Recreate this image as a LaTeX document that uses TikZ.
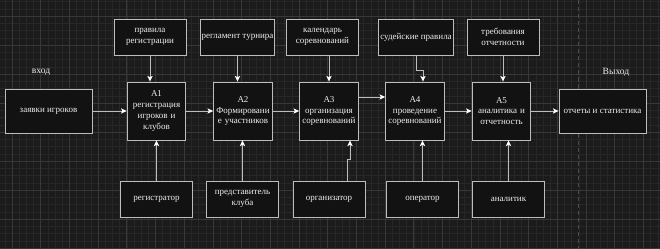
\documentclass[tikz,border=0pt]{standalone}
\usepackage{fontspec}
\setmainfont{Liberation Serif}
\usepackage{xcolor}
\usetikzlibrary{arrows.meta,calc,positioning}

\definecolor{bgcol}{HTML}{1B1B1B}
\definecolor{boxfill}{HTML}{121212}
\definecolor{boxline}{HTML}{BDBDBD}
\definecolor{gridmin}{HTML}{272727}
\definecolor{gridmaj}{HTML}{383838}
\definecolor{dashcol}{HTML}{4A4A4A}
\definecolor{txtcol}{HTML}{EEEEEE}

\begin{document}
\begin{tikzpicture}[x=0.025cm,y=-0.025cm,
  box/.style={draw=boxline,line width=0.6pt,fill=boxfill,align=center,inner sep=1pt,text=txtcol,
    font=\fontsize{6.4}{7.6}\selectfont},
  func/.style={box,minimum width=1.45cm,minimum height=1.45cm,text width=1.4cm},
  ctrl/.style={box,minimum width=1.8cm,minimum height=0.9cm},
  io/.style={box,minimum width=2.175cm,minimum height=1.1cm},
  lab/.style={text=txtcol,font=\fontsize{6.8}{8}\selectfont},
  arr/.style={-{Stealth[length=1.4mm,width=1.3mm,inset=0.3mm,color=white,fill=white]},draw=boxline,line width=0.6pt}]
  % background and grid
  \fill[bgcol] (0,0) rectangle (660,249);
  \useasboundingbox (0,0) rectangle (660,249);
  \foreach \i in {-1,...,92} \draw[gridmin,line width=0.3pt] ({12+\i*7.175},0) -- ++(0,249);
  \foreach \i in {-2,...,33} \draw[gridmin,line width=0.3pt] (0,{16+\i*7.25}) -- ++(660,0);
  \foreach \i in {0,...,22} \draw[gridmaj,line width=0.5pt] ({12+\i*28.7},0) -- ++(0,249);
  \foreach \i in {-1,...,8} \draw[gridmaj,line width=0.5pt] (0,{16+\i*29}) -- ++(660,0);
  \draw[dashcol,line width=0.6pt,dash pattern=on 3pt off 2pt] (578,0) -- (578,249);
  % main row
  \node[io]   (zayavki) at (48.5,111)  {заявки игроков};
  \node[func] (a1)      at (156.5,111) {A1\\регистрация\\игроков и\\клубов};
  \node[func] (a2)      at (243,111)   {A2\\Формировани\\е участников};
  \node[func] (a3)      at (329,111)   {A3\\организация\\соревнований};
  \node[func] (a4)      at (415,111)   {A4\\проведение\\соревнований};
  \node[func] (a5)      at (501.5,111) {A5\\аналитика и\\отчетность};
  \node[io]   (otchety) at (602.5,111) {отчеты и статистика};
  % controls
  \node[ctrl] (pravila)     at (150,37)   {правила\\регистрации};
  \node[ctrl] (reglament)   at (237.5,37) {регламент турнира};
  \node[ctrl] (kalendar)    at (322.5,37) {календарь\\соревнований};
  \node[ctrl] (sudeiskie)   at (416,37)   {судейские правила};
  \node[ctrl] (trebovaniya) at (503,37)   {требования\\отчетности};
  % mechanisms
  \node[ctrl] (registrator)  at (156.5,199) {регистратор};
  \node[ctrl] (predstavitel) at (242.5,199) {представитель\\клуба};
  \node[ctrl] (organizator)  at (329,199)   {организатор};
  \node[ctrl] (operator)     at (422.5,199) {оператор};
  \node[ctrl] (analitik)     at (508.5,199) {аналитик};
  \node[lab] (vhod)  at (41,72)  {вход};
  \node[lab] (vyhod) at (616,72) {Выход};
  % flows
  \draw[arr] (zayavki) -- (a1);
  \draw[arr] (a1) -- (a2);
  \draw[arr] (a2) -- (a3);
  \draw[arr] ($(a3.east)+(0,-14)$) -- ($(a4.west)+(0,-14)$);
  \draw[arr] (a4) -- (a5);
  \draw[arr] (a5) -- (otchety);
  \draw[arr] (pravila.south) -- (pravila.south |- a1.north);
  \draw[arr] (reglament.south) -- (reglament.south |- a2.north);
  \draw[arr] (a3.north |- kalendar.south) -- (a3.north);
  \draw[arr] (sudeiskie.south) -- ++(0,15) -| ($(a4.north)+(8,0)$);
  \draw[arr] (trebovaniya.south) -- (trebovaniya.south |- a5.north);
  \draw[arr] (registrator.north) -- (a1.south);
  \draw[arr] (predstavitel.north) -- (predstavitel.north |- a2.south);
  \draw[arr] ($(organizator.north)+(18,0)$) -- ++(0,-21) -| ($(a3.south)+(21,0)$);
  \draw[arr] (operator.north) -- (operator.north |- a4.south);
  \draw[arr] (analitik.north) -- (analitik.north |- a5.south);
\end{tikzpicture}
\end{document}
